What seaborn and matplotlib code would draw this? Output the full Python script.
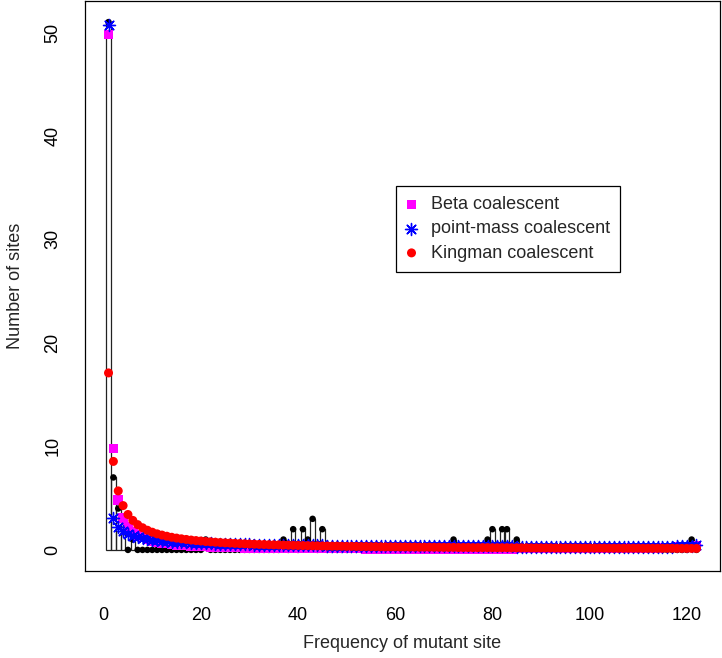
import matplotlib
matplotlib.use("Agg")
import matplotlib.pyplot as plt
import seaborn as sns
import numpy as np

freq = list(range(1, 123))

observed = [
    51, 7, 4, 3, 0, 1, 0, 0, 0, 0,
    0, 0, 0, 0, 0, 0, 0, 0, 0, 0,
    1, 0, 0, 0, 0, 0, 0, 0, 0, 0,
    0, 0, 0, 0, 0, 0, 1, 0, 2, 0,
    2, 1, 3, 0, 2, 0, 0, 0, 0, 0,
    0, 0, 0, 0, 0, 0, 0, 0, 0, 0,
    0, 0, 0, 0, 0, 0, 0, 0, 0, 0,
    0, 1, 0, 0, 0, 0, 0, 0, 1, 2,
    0, 2, 2, 0, 1, 0, 0, 0, 0, 0,
    0, 0, 0, 0, 0, 0, 0, 0, 0, 0,
    0, 0, 0, 0, 0, 0, 0, 0, 0, 0,
    0, 0, 0, 0, 0, 0, 0, 0, 0, 0,
    1, 0,
]

beta = [
    49.8, 9.8, 4.8, 3.1, 2.25, 1.75, 1.42, 1.18, 1.0, 0.87,
    0.77, 0.68, 0.61, 0.55, 0.5, 0.46, 0.42, 0.39, 0.36, 0.34,
    0.32, 0.3, 0.28, 0.27, 0.25, 0.24, 0.23, 0.22, 0.21, 0.2,
    0.19, 0.19, 0.18, 0.17, 0.17, 0.16, 0.16, 0.15, 0.15, 0.15,
    0.14, 0.14, 0.14, 0.13, 0.13, 0.13, 0.13, 0.12, 0.12, 0.12,
    0.12, 0.12, 0.12, 0.11, 0.11, 0.11, 0.11, 0.11, 0.11, 0.11,
    0.11, 0.11, 0.11, 0.11, 0.11, 0.11, 0.11, 0.11, 0.11, 0.11,
    0.11, 0.11, 0.11, 0.11, 0.11, 0.11, 0.11, 0.11, 0.11, 0.11,
    0.11, 0.11, 0.11, 0.11, 0.12, 0.12, 0.12, 0.12, 0.12, 0.12,
    0.12, 0.12, 0.12, 0.13, 0.13, 0.13, 0.13, 0.13, 0.14, 0.14,
    0.14, 0.14, 0.15, 0.15, 0.15, 0.16, 0.16, 0.17, 0.17, 0.18,
    0.18, 0.19, 0.2, 0.21, 0.22, 0.23, 0.24, 0.26, 0.28, 0.3,
    0.33, 0.38,
]

point_mass = [
    50.7, 3.1, 2.2, 1.8, 1.55, 1.38, 1.25, 1.15, 1.07, 1.0,
    0.94, 0.89, 0.85, 0.81, 0.78, 0.75, 0.72, 0.7, 0.68, 0.66,
    0.64, 0.62, 0.61, 0.59, 0.58, 0.57, 0.56, 0.55, 0.54, 0.53,
    0.52, 0.51, 0.5, 0.49, 0.49, 0.48, 0.47, 0.47, 0.46, 0.45,
    0.45, 0.44, 0.44, 0.43, 0.43, 0.42, 0.42, 0.41, 0.41, 0.4,
    0.4, 0.4, 0.39, 0.39, 0.39, 0.38, 0.38, 0.38, 0.37, 0.37,
    0.37, 0.37, 0.36, 0.36, 0.36, 0.36, 0.35, 0.35, 0.35, 0.35,
    0.35, 0.34, 0.34, 0.34, 0.34, 0.34, 0.34, 0.33, 0.33, 0.33,
    0.33, 0.33, 0.33, 0.33, 0.32, 0.32, 0.32, 0.32, 0.32, 0.32,
    0.32, 0.32, 0.32, 0.32, 0.31, 0.31, 0.31, 0.31, 0.31, 0.31,
    0.31, 0.31, 0.31, 0.31, 0.31, 0.31, 0.31, 0.31, 0.31, 0.31,
    0.31, 0.31, 0.31, 0.31, 0.32, 0.32, 0.32, 0.33, 0.33, 0.34,
    0.36, 0.48,
]

kingman = [
    17.1, 8.55, 5.7, 4.28, 3.42, 2.85, 2.44, 2.14, 1.9, 1.71,
    1.55, 1.43, 1.32, 1.22, 1.14, 1.07, 1.01, 0.95, 0.9, 0.86,
    0.81, 0.78, 0.74, 0.71, 0.68, 0.66, 0.63, 0.61, 0.59, 0.57,
    0.55, 0.53, 0.52, 0.5, 0.49, 0.48, 0.46, 0.45, 0.44, 0.43,
    0.42, 0.41, 0.4, 0.39, 0.38, 0.37, 0.36, 0.36, 0.35, 0.34,
    0.34, 0.33, 0.32, 0.32, 0.31, 0.31, 0.3, 0.29, 0.29, 0.29,
    0.28, 0.28, 0.27, 0.27, 0.26, 0.26, 0.26, 0.25, 0.25, 0.24,
    0.24, 0.24, 0.23, 0.23, 0.23, 0.22, 0.22, 0.22, 0.22, 0.21,
    0.21, 0.21, 0.21, 0.2, 0.2, 0.2, 0.2, 0.19, 0.19, 0.19,
    0.19, 0.19, 0.18, 0.18, 0.18, 0.18, 0.18, 0.17, 0.17, 0.17,
    0.17, 0.17, 0.17, 0.16, 0.16, 0.16, 0.16, 0.16, 0.16, 0.16,
    0.15, 0.15, 0.15, 0.15, 0.15, 0.15, 0.15, 0.14, 0.14, 0.14,
    0.14, 0.14,
]

x_ticks = [0, 20, 40, 60, 80, 100, 120]
y_ticks = [0, 10, 20, 30, 40, 50]
series_labels = ["Beta coalescent", "point-mass coalescent", "Kingman coalescent"]

sns.set_theme(style="white")
plt.rcParams["font.family"] = ["Liberation Sans", "DejaVu Sans"]

fig = plt.figure(figsize=(7.22, 6.58), dpi=100)
ax = fig.add_axes([85 / 722, 87 / 658, 635 / 722, 570 / 658])

# observed spectrum as hollow narrow bars
sns.histplot(x=freq, weights=observed, discrete=True, shrink=0.95,
             fill=False, color="#222222", linewidth=0.9, ax=ax)
sns.scatterplot(x=freq, y=observed, color="black", s=22, edgecolor="none",
                ax=ax, zorder=3)

sns.scatterplot(x=freq, y=beta, marker="s", color="#FF00FF", s=48,
                edgecolor="none", ax=ax, zorder=4, label=series_labels[0])
sns.scatterplot(x=freq, y=point_mass, marker=(8, 2, 0), color="#0000FF",
                s=75, linewidth=1.0, ax=ax, zorder=5, label=series_labels[1])
sns.scatterplot(x=freq, y=kingman, marker="o", color="#FF0000", s=42,
                edgecolor="none", ax=ax, zorder=6, label=series_labels[2])

ax.set_xlim(-3.84, 126.84)
ax.set_ylim(-2.04, 53.04)
ax.set_xticks(x_ticks)
ax.set_yticks(y_ticks)
ax.set_xticklabels([str(t) for t in x_ticks], fontsize=13)
ax.set_yticklabels([str(t) for t in y_ticks], fontsize=13, rotation=90,
                   va="center")
ax.tick_params(axis="both", direction="out", length=8, width=0.8,
               color="#333333", labelcolor="black")
ax.tick_params(axis="x", pad=18)
ax.tick_params(axis="y", pad=9)
for sp in ax.spines.values():
    sp.set_color("black")
    sp.set_linewidth(0.9)

ax.set_xlabel("Frequency of mutant site", fontsize=13, labelpad=8)
ax.set_ylabel("Number of sites", fontsize=13, labelpad=15)

leg = ax.legend(loc="upper left", bbox_to_anchor=(0.49, 0.675),
                fontsize=13, frameon=True, fancybox=False, framealpha=1,
                edgecolor="black", borderaxespad=0, handletextpad=0.8,
                labelspacing=0.4, borderpad=0.55, handlelength=0.6)
leg.get_frame().set_linewidth(0.9)

fig.savefig("out.png", dpi=100)
